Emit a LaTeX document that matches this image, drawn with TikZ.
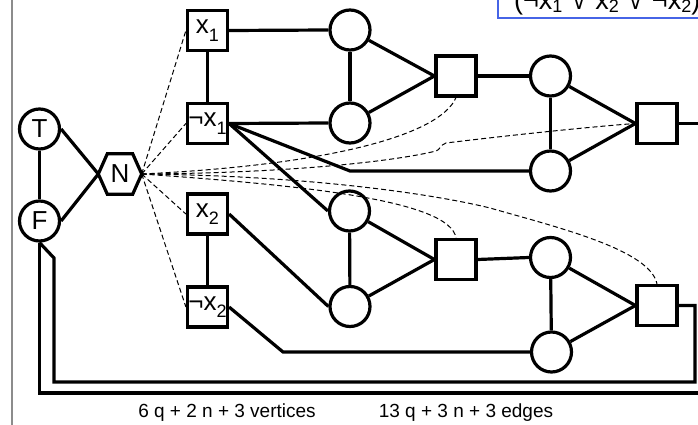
\documentclass[tikz,border=0pt]{standalone}
\usepackage{fontspec}
\setmainfont{Liberation Sans}
\newfontfamily\symfont{DejaVu Sans}
\definecolor{frameblue}{RGB}{70,100,230}
\definecolor{railgray}{RGB}{140,140,140}
% lowered index digit: optional size in pt, then the digit
\newcommand\lowsub[2][18]{\raisebox{-0.28em}{\fontsize{#1}{#1}\selectfont #2}}
\newcommand\topsub[1]{\raisebox{-3.5pt}{\fontsize{18}{18}\selectfont #1}}
\newcommand\orsym{\makebox[18pt]{\symfont\fontsize{19}{19}\selectfont ∨}}
\begin{document}
\begin{tikzpicture}[x=1pt,y=-1pt,
  every node/.style={font=\fontsize{26}{26}\selectfont},
  wire/.style={line width=3.2pt, line join=miter},
  hint/.style={line width=1pt, dash pattern=on 5pt off 3pt},
  vtx/.style={circle, draw, line width=3.2pt, minimum size=40pt, inner sep=0pt},
  lit/.style={rectangle, draw, line width=3.2pt, minimum size=40pt, inner sep=0pt},
  gate/.style={lit},
  caption/.style={font=\fontsize{19}{19}\selectfont, inner sep=0pt},
]
\useasboundingbox (0,0) rectangle (698,425);
\clip (0,0) rectangle (698,425);

% left margin rule
\draw[railgray, line width=1.5pt] (12,-5) -- (12,430);

% truth vertices and the neutral hexagon
\node[vtx] (T) at (39.5,129) {T};
\node[vtx] (F) at (39.5,221) {F};
\node[inner sep=0pt, minimum width=43pt, minimum height=40pt] (N) at (120,174) {N};
\draw[wire] (N.west) -- ([xshift=9pt]N.north west) -- ([xshift=-9pt]N.north east)
  -- (N.east) -- ([xshift=-9pt]N.south east) -- ([xshift=9pt]N.south west) -- cycle;

% literal vertices
\node[lit] (x1)  at (207.5,30.5)  {x\lowsub{1}};
\node[lit] (nx1) at (207.5,123.5) {¬x\lowsub{1}};
\node[lit] (x2)  at (207.5,214)   {x\lowsub{2}};
\node[lit] (nx2) at (207.5,307)   {¬x\lowsub{2}};

% clause gadgets
\node[vtx]  (A1) at (350,30)    {};
\node[vtx]  (A2) at (350,123)   {};
\node[gate] (C1) at (456,76)    {};
\node[vtx]  (B1) at (550.5,76)  {};
\node[vtx]  (B2) at (550.5,171) {};
\node[gate] (C2) at (657,123.5) {};

\node[vtx]  (D1) at (349.5,211)   {};
\node[vtx]  (D2) at (350,306.5)   {};
\node[gate] (C3) at (456,259.5)   {};
\node[vtx]  (E1) at (550.5,257.5) {};
\node[vtx]  (E2) at (551.5,352)   {};
\node[gate] (C4) at (657,305.5)   {};

% bends and loose ends
\coordinate (k1) at (350,171);
\coordinate (k2) at (283,352);
\coordinate (outR) at (710,123.5);
\coordinate (r1) at (695,305.5);
\coordinate (r2) at (695,382);
\coordinate (r3) at (54,382);
\coordinate (r4) at (54,258);
\coordinate (o1) at (39.5,393);
\coordinate (o2) at (710,393);

% solid edges
\draw[wire] (T) -- (F);
\draw[wire] (T.east) -- (N.west);
\draw[wire] (F.east) -- (N.west);
\draw[wire] (x1) -- (nx1);
\draw[wire] (x2) -- (nx2);
\draw[wire] (x1.east) -- (A1.west);
\draw[wire] (nx1.east) -- (A2.west);
\draw[wire] (nx1.east) -- (k1) -- (B2.west);
\draw[wire] (nx1.east) -- (D1.west);
\draw[wire] (x2.east) -- (D2.west);
\draw[wire] (nx2.east) -- (k2) -- (E2.west);

\draw[wire] (A1) -- (A2);
\draw[wire] (A1) -- (C1.west);
\draw[wire] (A2) -- (C1.west);
\draw[wire] (C1.east) -- (B1.west);
\draw[wire] (B1) -- (B2);
\draw[wire] (B1) -- (C2.west);
\draw[wire] (B2) -- (C2.west);
\draw[wire] (C2.east) -- (outR);

\draw[wire] (D1) -- (D2);
\draw[wire] (D1) -- (C3.west);
\draw[wire] (D2) -- (C3.west);
\draw[wire] (C3.east) -- (E1.west);
\draw[wire] (E1) -- (E2);
\draw[wire] (E1) -- (C4.west);
\draw[wire] (E2) -- (C4.west);

\draw[wire] (C4.east) -- (r1) -- (r2) -- (r3) -- (r4) -- (F.south);
\draw[wire] (F.south) -- (o1) -- (o2);

% dashed hints from the hexagon
\draw[hint] (N.east) -- (x1.west);
\draw[hint] (N.east) -- (nx1.west);
\draw[hint] (N.east) -- (x2.west);
\draw[hint] (N.east) -- (nx2.west);
\draw[hint] (N.east) .. controls (330,165) and (440,135) .. (C1.south);
\draw[hint] (N.east) .. controls (300,173) and (400,160) .. (436,151)
  .. controls (440,150) and (440,145) .. (446,143)
  .. controls (520,134) and (600,126) .. (C2.west);
\draw[hint] (N.east) .. controls (300,185) and (450,200) .. (C3.north);
\draw[hint] (N.east) .. controls (330,176) and (450,198) .. (490,208)
  .. controls (560,228) and (650,250) .. (C4.north);

% formula frame, cut by the top edge
\draw[frameblue, line width=1.5pt] (498,-10) rectangle (720,18);
\node[anchor=base west, inner sep=0pt, font=\fontsize{27}{27}\selectfont] (formula) at (514,9.5)
  {(¬x\topsub{1} \orsym{} x\topsub{2} \orsym{} ¬x\topsub{2})};

% counts
\node[caption] (nv) at (227,413) {6 q + 2 n + 3 vertices};
\node[caption] (ne) at (466,413) {13 q + 3 n + 3 edges};
\end{tikzpicture}
\end{document}
